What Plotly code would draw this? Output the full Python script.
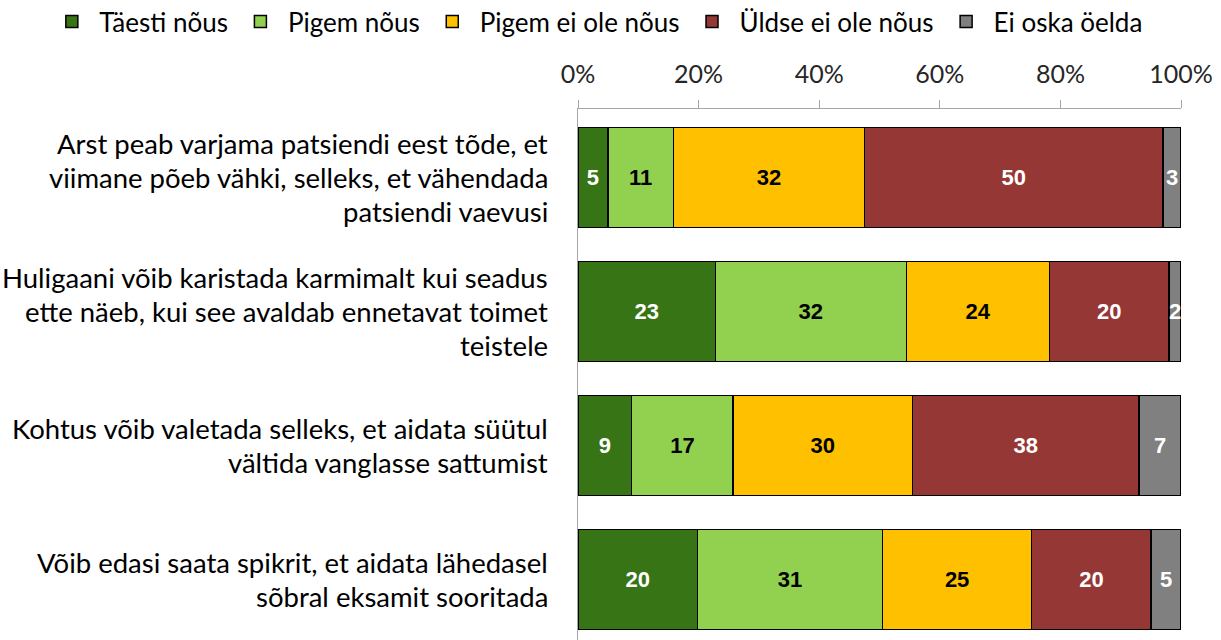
import plotly.graph_objects as go

# Survey statements (one per bar) and how each is broken into lines
statements = [
    "Arst peab varjama patsiendi eest tõde, et viimane põeb vähki, selleks, et vähendada patsiendi vaevusi",
    "Huligaani võib karistada karmimalt kui seadus ette näeb, kui see avaldab ennetavat toimet teistele",
    "Kohtus võib valetada selleks, et aidata süütul vältida vanglasse sattumist",
    "Võib edasi saata spikrit, et aidata lähedasel sõbral eksamit sooritada",
]
statement_lines = [
    ["Arst peab varjama patsiendi eest tõde, et", "viimane põeb vähki, selleks, et vähendada", "patsiendi vaevusi"],
    ["Huligaani võib karistada karmimalt kui seadus", "ette näeb, kui see avaldab ennetavat toimet", "teistele"],
    ["Kohtus võib valetada selleks, et aidata süütul", "vältida vanglasse sattumist"],
    ["Võib edasi saata spikrit, et aidata lähedasel", "sõbral eksamit sooritada"],
]

answer_labels = ["Täesti nõus", "Pigem nõus", "Pigem ei ole nõus", "Üldse ei ole nõus", "Ei oska öelda"]

taiesti_nous = [5, 23, 9, 20]
pigem_nous = [11, 32, 17, 31]
pigem_ei_nous = [32, 24, 30, 25]
uldse_ei_nous = [50, 20, 38, 20]
ei_oska = [3, 2, 7, 5]

tick_values = [0, 20, 40, 60, 80, 100]

series = [taiesti_nous, pigem_nous, pigem_ei_nous, uldse_ei_nous, ei_oska]
fill_colors = ["#377416", "#92D050", "#FFC000", "#953735", "#808080"]
label_colors = ["white", "black", "black", "white", "white"]

TEXT_FONT = "Lato, Calibri, sans-serif"

fig = go.Figure()
for name, vals, col, tcol in zip(answer_labels, series, fill_colors, label_colors):
    fig.add_trace(go.Bar(
        name=name,
        y=statements,
        x=vals,
        orientation="h",
        marker=dict(color=col, line=dict(color="black", width=1.5)),
        text=[str(v) for v in vals],
        texttemplate="%{text}",
        textposition="inside",
        insidetextanchor="middle",
        textangle=0,
        textfont=dict(family="Liberation Sans Narrow, Liberation Sans, Arial", size=22, color=tcol, weight="bold"),
        hoverinfo="skip",
    ))

# Statement labels, centred line by line, right-aligned block left of the axis
line_step = 34
for stmt, lines in zip(statements, statement_lines):
    n = len(lines)
    for i, line in enumerate(lines):
        fig.add_annotation(
            x=0, xref="paper", xshift=-28, xanchor="right",
            y=stmt, yref="y", yanchor="middle",
            yshift=((n - 1) / 2 - i) * line_step,
            text=line, showarrow=False,
            font=dict(family=TEXT_FONT, size=27.5, color="black"),
        )

fig.update_layout(
    width=1221, height=640,
    margin=dict(l=578, r=40, t=109, b=0, autoexpand=False),
    paper_bgcolor="white", plot_bgcolor="white",
    barmode="stack", barnorm="percent", bargap=0.254,
    uniformtext=dict(mode="show", minsize=22),
    showlegend=True,
    legend=dict(
        orientation="h", xref="paper", x=-0.885, xanchor="left",
        yref="paper", y=1.209, yanchor="top",
        font=dict(family=TEXT_FONT, size=26, color="black"),
        traceorder="normal", itemwidth=45,
        bgcolor="rgba(0,0,0,0)",
    ),
    xaxis=dict(
        side="top", range=[0, 100], tickvals=tick_values,
        ticktext=[f"{v}%" for v in tick_values],
        showgrid=False, zeroline=False,
        showline=True, linecolor="#A6A6A6", linewidth=1.3,
        ticks="outside", ticklen=8, tickcolor="#A6A6A6", tickwidth=1.3,
        ticklabelstandoff=7,
        tickfont=dict(family=TEXT_FONT, size=25, color="#262626"),
        fixedrange=True,
    ),
    yaxis=dict(
        type="category", range=[3.45, -0.51],
        showticklabels=False, showgrid=False, zeroline=False,
        showline=True, linecolor="#A6A6A6", linewidth=1.3, ticks="",
        fixedrange=True,
    ),
)

fig.write_html("out.html")
